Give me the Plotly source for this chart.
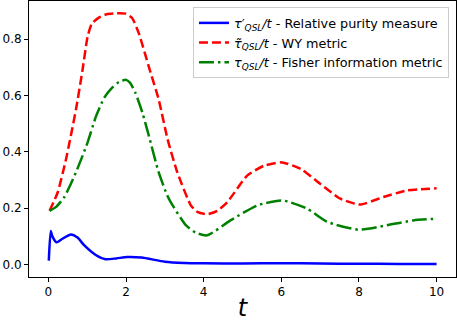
import plotly.graph_objects as go

# Relative purity measure (blue)
t_blue = [0.01, 0.06, 0.1, 0.21, 0.35, 0.58, 0.75, 0.92, 1.22, 1.47, 1.75, 2.03, 2.4, 3.0, 3.5, 4.0, 5.0, 6.0, 7.0, 8.0, 9.0, 10.0]
v_blue = [0.013, 0.118, 0.1, 0.078, 0.09, 0.106, 0.095, 0.068, 0.033, 0.018, 0.021, 0.026, 0.024, 0.0095, 0.005, 0.0035, 0.003, 0.004, 0.003, 0.002, 0.0015, 0.001]

# WY metric (red)
t_red = [0.03, 0.24, 0.455, 0.71, 0.88, 1.01, 1.12, 1.3, 1.5, 1.75, 1.99, 2.16, 2.33, 2.59, 2.84, 3.07, 3.32, 3.67, 3.85, 4.09, 4.35, 4.61, 5.12, 5.55, 6.02, 6.5, 7.0, 7.52, 8.03, 8.63, 9.23, 10.0]
v_red = [0.19, 0.256, 0.374, 0.55, 0.691, 0.809, 0.855, 0.876, 0.888, 0.891, 0.89, 0.874, 0.82, 0.70, 0.586, 0.444, 0.327, 0.209, 0.185, 0.178, 0.19, 0.221, 0.315, 0.35, 0.362, 0.339, 0.286, 0.233, 0.212, 0.239, 0.262, 0.27]

# Fisher information metric (green)
t_green = [0.03, 0.2, 0.41, 0.71, 1.01, 1.23, 1.44, 1.65, 1.82, 2.0, 2.1, 2.24, 2.42, 2.59, 2.84, 3.06, 3.15, 3.54, 3.8, 4.09, 4.69, 5.38, 6.02, 6.66, 7.18, 7.99, 8.72, 9.4, 10.0]
v_green = [0.19, 0.204, 0.239, 0.327, 0.433, 0.527, 0.592, 0.628, 0.648, 0.655, 0.645, 0.609, 0.539, 0.455, 0.327, 0.245, 0.221, 0.139, 0.112, 0.103, 0.156, 0.209, 0.227, 0.198, 0.151, 0.123, 0.139, 0.156, 0.162]

x_ticks = [0, 2, 4, 6, 8, 10]
y_ticks = [0.0, 0.2, 0.4, 0.6, 0.8]

fig = go.Figure()
fig.add_trace(go.Scatter(x=t_blue, y=v_blue, mode="lines",
                         line=dict(color="blue", width=2.5, shape="spline", smoothing=0.6),
                         name="<i>τ′<sub>QSL</sub>/t</i> - Relative purity measure"))
fig.add_trace(go.Scatter(x=t_red, y=v_red, mode="lines",
                         line=dict(color="red", width=2.5, dash="9px,4px", shape="spline", smoothing=0.5),
                         name="<i>τ̃<sub>QSL</sub>/t</i> - WY metric"))
fig.add_trace(go.Scatter(x=t_green, y=v_green, mode="lines",
                         line=dict(color="green", width=2.5, dash="15px,4px,2.5px,4px", shape="spline", smoothing=0.6),
                         name="<i>τ<sub>QSL</sub>/t</i> - Fisher information metric"))

axis_common = dict(showline=True, linecolor="black", linewidth=1, mirror=True,
                   showgrid=False, zeroline=False, ticks="outside", ticklen=4,
                   tickcolor="black", automargin=False,
                   tickfont=dict(family="DejaVu Sans", size=12, color="black"))

fig.update_layout(
    width=457, height=322,
    margin=dict(l=29, r=1, t=1, b=45),
    plot_bgcolor="white", paper_bgcolor="white",
    xaxis=dict(range=[-0.5, 10.5], tickvals=x_ticks, ticktext=[str(v) for v in x_ticks],
               title=dict(text="<i>t</i>", font=dict(family="DejaVu Sans", size=24, color="black"), standoff=0),
               **axis_common),
    yaxis=dict(range=[-0.045, 0.935], tickvals=y_ticks, ticktext=[f"{v:.1f}" for v in y_ticks],
               **axis_common),
    legend=dict(x=0.384, y=0.978, xanchor="left", yanchor="top",
                bgcolor="white", bordercolor="#cccccc", borderwidth=1,
                font=dict(family="DejaVu Sans", size=12.8, color="black"),
                tracegroupgap=0, itemwidth=30),
    showlegend=True,
)

fig.write_html("out.html", config={"displayModeBar": False},
               post_script="document.body.style.margin='0';document.body.style.overflow='hidden';")
